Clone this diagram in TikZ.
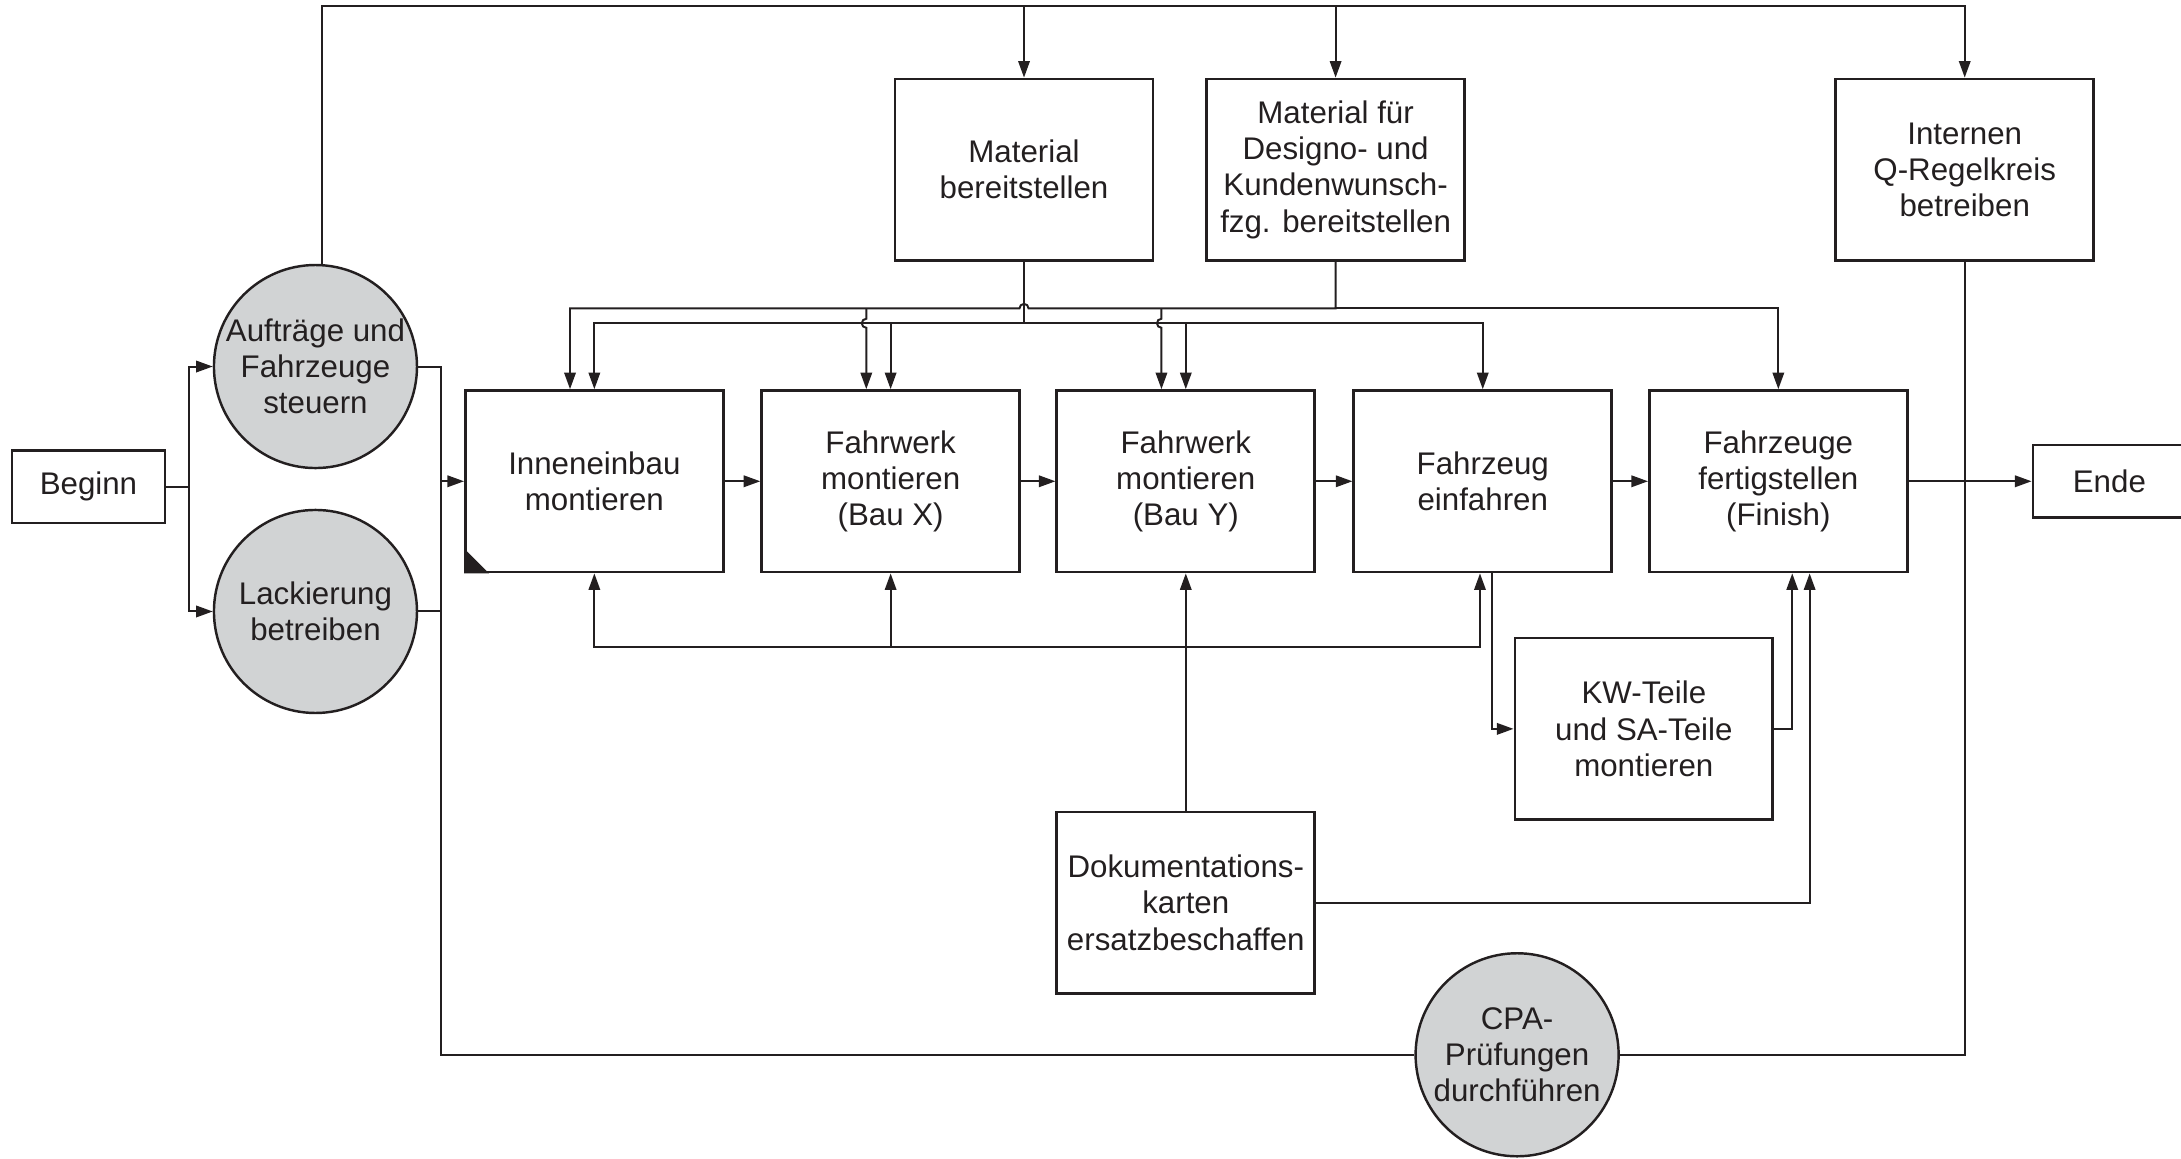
\documentclass[tikz,border=0pt]{standalone}
\usepackage{fontspec}
\setmainfont{Liberation Sans}
\usepackage{xcolor}
\usetikzlibrary{arrows.meta}
\definecolor{inkgray}{HTML}{231F20}
\definecolor{circgray}{HTML}{D1D3D4}

\begin{document}
\begin{tikzpicture}[x=0.02cm, y=-0.02cm, color=inkgray, line width=0.8pt,
  txt/.style={font=\fontsize{12.8}{14.8}\selectfont, align=center},
  procbox/.style={txt, draw, line width=1.1pt, minimum width=3.71cm, minimum height=2.61cm, inner sep=1pt},
  endbox/.style={txt, draw, line width=1.1pt, minimum width=2.2cm, minimum height=1.04cm},
  actcirc/.style={txt, circle, draw, line width=1pt, fill=circgray, minimum size=2.92cm, inner sep=-1.5pt},
  flow/.style={-{Triangle[length=6.8pt,width=4.7pt]}}]
\useasboundingbox (0,0) rectangle (1568,833);
\node[endbox] (beginn) at (63.6,350) {Beginn};
\node[actcirc] (auf) at (226.8,263.5) {Aufträge und\\Fahrzeuge\\steuern};
\node[actcirc] (lack) at (226.8,439.6) {Lackierung\\betreiben};
\node[procbox] (mat) at (736.2,122) {Material\\bereitstellen};
\node[procbox] (matd) at (960.2,122) {Material für\\Designo- und\\Kundenwunsch-\\fzg. bereitstellen};
\node[procbox] (qreg) at (1412.5,122) {Internen\\Q-Regelkreis\\betreiben};
\node[procbox] (inn) at (427.3,346) {Inneneinbau\\montieren};
\node[procbox] (fwx) at (640.3,346) {Fahrwerk\\montieren\\(Bau X)};
\node[procbox] (fwy) at (852.5,346) {Fahrwerk\\montieren\\(Bau Y)};
\node[procbox] (einf) at (1066,346) {Fahrzeug\\einfahren};
\node[procbox] (fert) at (1278.5,346) {Fahrzeuge\\fertigstellen\\(Finish)};
\node[endbox] (ende) at (1516.5,346) {Ende};
\node[procbox] (kw) at (1181.8,524) {KW-Teile\\und SA-Teile\\montieren};
\node[procbox] (doku) at (852.5,649) {Dokumentations-\\karten\\ersatzbeschaffen};
\node[actcirc] (cpa) at (1090.7,758.3) {CPA-\\Prüfungen\\durchführen};
\fill (inn.south west) -- ++(0,-18) -- ++(18,18) -- cycle;

\coordinate (topl) at (0,4.5);
\coordinate (ub) at (0,221.7);
\coordinate (lb) at (0,232.4);
\coordinate (lbt) at (0,229.15);
\coordinate (fb) at (0,465.4);
\coordinate (lx) at (316.8,0);
\coordinate (bx) at (136,0);
\coordinate (aufu) at ([xshift=0.09cm]auf.north);
\coordinate (innu) at ([xshift=-0.35cm]inn.north);
\coordinate (fwxu) at ([xshift=-0.35cm]fwx.north);
\coordinate (fwyu) at ([xshift=-0.35cm]fwy.north);
\coordinate (hopr) at ([xshift=0.065cm]mat.south);
\coordinate (einfl) at ([xshift=-0.04cm]einf.south);
\coordinate (einfr) at ([xshift=0.13cm]einf.south);
\coordinate (fertl) at ([xshift=0.2cm]fert.south);
\coordinate (fertr) at ([xshift=0.45cm]fert.south);

\draw[flow] (aufu) |- (qreg.north |- topl) -- (qreg.north);
\draw[flow] (mat.north |- topl) -- (mat.north);
\draw[flow] (matd.north |- topl) -- (matd.north);
\draw (beginn.east) -- (beginn.east -| bx);
\draw[flow] (beginn.east -| bx) |- (auf.west);
\draw[flow] (beginn.east -| bx) |- (lack.west);
\draw (auf.east) -| (cpa.west -| lx) -- (cpa.west);
\draw (lack.east) -- (lack.east -| lx);
\draw[flow] (inn.west -| lx) -- (inn.west);
\draw (cpa.east) -| (qreg.south);
\draw[flow] (inn.east) -- (fwx.west);
\draw[flow] (fwx.east) -- (fwy.west);
\draw[flow] (fwy.east) -- (einf.west);
\draw[flow] (einf.east) -- (fert.west);
\draw[flow] (fert.east) -- (ende.west);

\draw[flow] (matd.south) |- (hopr |- ub) arc[start angle=0, end angle=180, radius=0.065cm] -| (innu);
\draw[flow] (matd.south |- ub) -| (fert.north);
\draw[flow] (fwxu |- ub) -- (fwxu |- lbt) arc[start angle=90, end angle=270, radius=0.065cm] -- (fwxu);
\draw[flow] (fwyu |- ub) -- (fwyu |- lbt) arc[start angle=90, end angle=270, radius=0.065cm] -- (fwyu);
\draw (mat.south) -- (mat.south |- lb);
\draw[flow] (mat.south |- lb) -| (inn.north);
\draw[flow] (mat.south |- lb) -| (einf.north);
\draw[flow] (fwx.north |- lb) -- (fwx.north);
\draw[flow] (fwy.north |- lb) -- (fwy.north);

\draw[flow] (doku.north) -- (fwy.south);
\draw[flow] (doku.north |- fb) -| (inn.south);
\draw[flow] (fwx.south |- fb) -- (fwx.south);
\draw[flow] (doku.north |- fb) -| (einfl);
\draw[flow] (einfr) |- (kw.west);
\draw[flow] (kw.east) -| (fertl);
\draw[flow] (doku.east) -| (fertr);
\end{tikzpicture}
\end{document}
